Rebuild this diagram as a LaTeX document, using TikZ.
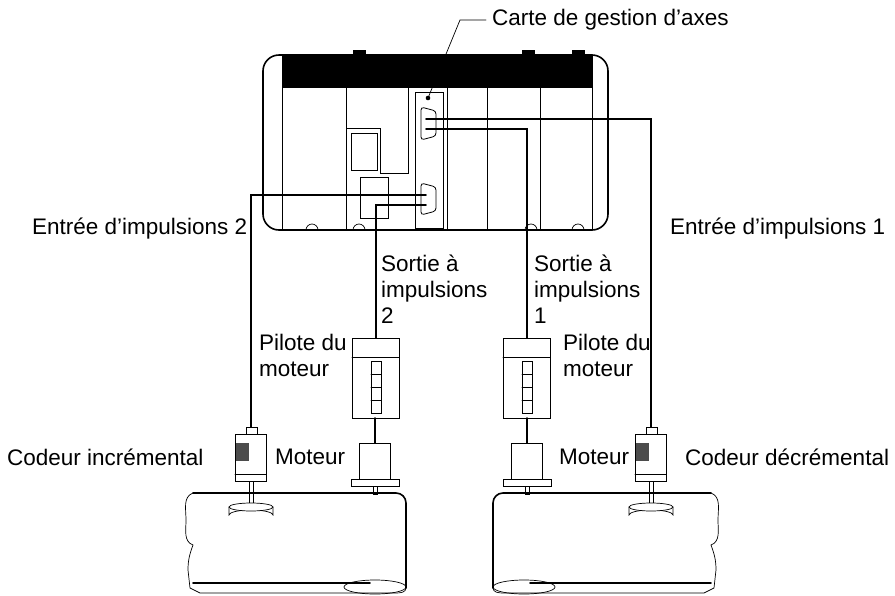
\documentclass[tikz,border=0pt]{standalone}
\usepackage{fontspec}
\setmainfont{Liberation Sans}
\usetikzlibrary{positioning}

\begin{document}
\begin{tikzpicture}
		[x=1pt,y=-1pt,line cap=round,
		%Styles
		thin part/.style={line width=0.7pt},
		heavy part/.style={line width=1.6pt},
		cable/.style={line width=1.8pt},
		label text/.style={font=\fontsize{22.5}{26}\selectfont,inner sep=0pt,align=left},
		port/.style={rounded corners=3pt,line width=0.8pt}
		]
		
		\useasboundingbox (0,0) rectangle (895,595);
		
		%The PLC rack
		\draw[heavy part,rounded corners=16pt] (263,55) rectangle (608,230);
		\fill (282,55) rectangle (592,88);
		\foreach \x in {282,346,447,487,540,592}
			\draw[thin part] (\x,55) -- (\x,230);
		\foreach \x in {353,522,572}
			\draw[thin part,fill=black] (\x,50) rectangle +(12,5);
		\foreach \x in {306,353,525,572}
			\draw[thin part] (\x,230) arc[start angle=180,end angle=360,radius=6];
		\draw[thin part] (347,128) -- (380,128) -- (380,173) -- (408,173) -- (408,88);
		\draw[thin part] (351,133) rectangle (377,170);
		\draw[thin part] (360,177) rectangle (388,218);
		
		%Axis card with its two connectors
		\draw[thin part] (415,92) rectangle (443,228);
		\fill (428,98) circle[radius=2.3pt] coordinate (card);
		\draw[port] (421,107) -- (436,111) -- (436,136) -- (421,140) -- cycle;
		\draw[port] (421,183) -- (436,187) -- (436,211) -- (421,215) -- cycle;
		\coordinate (p1a) at (426,119);
		\coordinate (p1b) at (426,129);
		\coordinate (p2a) at (426,195);
		\coordinate (p2b) at (426,205);
		
		\node[label text,anchor=west] (card label) at (492,20) {Carte de gestion d’axes};
		\draw[thin part] (card) -- (460,20) -- ([xshift=-6pt]card label.west);
		
		%Drivers
		\foreach \n/\x in {2/376,1/527}{
			\draw[thin part] (\x-24,338) rectangle (\x+23,418);
			\draw[thin part] (\x-24,357) -- (\x+23,357);
			\draw[thin part] (\x-5,361) rectangle (\x+5,413);
			\foreach \y in {374,387,400}
				\draw[thin part] (\x-5,\y) -- (\x+5,\y);
			\coordinate (drv\n) at (\x,338);
		}
		
		%Motors and pipes
		\foreach \n/\x in {2/375,1/527}{
			\draw[thin part,fill=white] (\x-16,443) rectangle (\x+15,479);
			\draw[thin part,fill=white] (\x-24,479) rectangle (\x+24,486);
			\draw[thin part] (\x-2,486) rectangle (\x+2,494);
			\coordinate (mot\n) at (\x,443);
		}
		
		%Encoders
		\foreach \n/\x in {2/251,1/651}{
			\draw[thin part,fill=white] (\x-5,427) rectangle (\x+6,434);
			\draw[thin part,fill=white] (\x-16,434) rectangle (\x+15,481);
			\draw[thin part] (\x-16,474) -- (\x+15,474);
			\fill[black!70] (\x-15,443) rectangle (\x-2,461);
			\draw[thin part] (\x-2,481) rectangle (\x+2,506);
			\draw[thin part,fill=white] (\x-22,507) -- (\x-22,515) arc[start angle=180,end angle=360,x radius=22,y radius=5] -- (\x+22,507);
			\draw[thin part,fill=white] (\x,507) ellipse[x radius=22,y radius=4];
			\coordinate (enc\n) at (\x,427);
		}
		
		%Left pipe
		\draw[heavy part] (193,493) -- (396,493) to[out=0,in=90] (406,503) -- (406,588);
		\draw[thin part] (193,493) to[out=200,in=90] (186,520) to[out=270,in=160] (193,545) to[out=250,in=90] (188,570) -- (190,588) -- (200,593) -- (396,593) to[out=0,in=270] (406,588);
		\draw[heavy part] (193,583) -- (370,583);
		\draw[thin part] (375,587) ellipse[x radius=31,y radius=7];
		
		%Right pipe
		\draw[heavy part] (711,493) -- (503,493) to[out=180,in=90] (493,503) -- (493,588);
		\draw[thin part] (711,493) to[out=340,in=90] (718,520) to[out=270,in=20] (711,545) to[out=290,in=90] (716,570) -- (714,588) -- (704,593) -- (503,593) to[out=180,in=270] (493,588);
		\draw[heavy part] (711,583) -- (530,583);
		\draw[thin part] (524,587) ellipse[x radius=31,y radius=7];
		
		%Cables
		\draw[cable] (p1a) -| (enc1);
		\draw[cable] (p1b) -| (drv1);
		\draw[cable] (p2a) -| (enc2);
		\draw[cable] (p2b) -| (drv2);
		\draw[cable] (527,418) -- (mot1);
		\draw[cable] (375,418) -- (mot2);
		
		%Labels
		\node[label text,anchor=west] (in2) at (32,229) {Entrée d’impulsions 2};
		\node[label text,anchor=west] (in1) at (670,229) {Entrée d’impulsions 1};
		\node[label text,anchor=north west] (out2) at (381,255) {Sortie à\\impulsions\\2};
		\node[label text,anchor=north west] (out1) at (534,255) {Sortie à\\impulsions\\1};
		\node[label text,anchor=north west] (pil2) at (259,334) {Pilote du\\moteur};
		\node[label text,anchor=north west] (pil1) at (563,334) {Pilote du\\moteur};
		\node[label text,anchor=west] (cod2) at (7,457) {Codeur incrémental};
		\node[label text,anchor=west] (cod1) at (685,457) {Codeur décrémental};
		\node[label text,anchor=west] (mtr2) at (275,457) {Moteur};
		\node[label text,anchor=west] (mtr1) at (559,457) {Moteur};
	\end{tikzpicture}
\end{document}
